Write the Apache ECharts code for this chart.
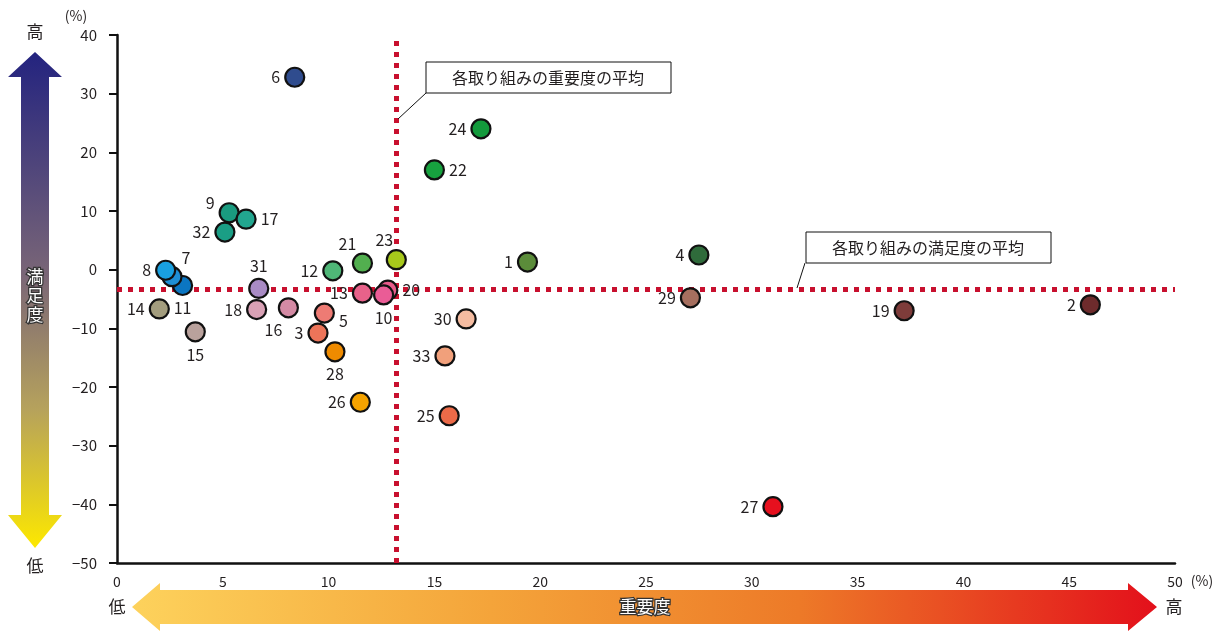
<!DOCTYPE html>
<html>
<head>
<meta charset="utf-8">
<script src="https://cdn.jsdelivr.net/npm/echarts@6/dist/echarts.min.js"></script>
<style>
  html, body { margin: 0; padding: 0; background: #fff; }
  #chart { width: 1218px; height: 632px; }
</style>
</head>
<body>
<div id="chart"></div>
<script>
const ids = ['1', '2', '3', '4', '5', '6', '7', '8', '9', '10', '11', '12', '13', '14', '15', '16', '17',
  '18', '19', '20', '21', '22', '23', '24', '25', '26', '27', '28', '29', '30', '31', '32', '33']
// 重要度 (%)
const importance = [19.4, 46.0, 9.5, 27.5, 9.8, 8.4, 2.6, 2.3, 5.3, 12.6, 3.1, 10.2, 11.6, 2.0, 3.7, 8.1, 6.1,
  6.6, 37.2, 12.8, 11.6, 15.0, 13.2, 17.2, 15.7, 11.5, 31.0, 10.3, 27.1, 16.5, 6.7, 5.1, 15.5]
// 満足度 (%)
const satisfaction = [1.3, -6.0, -10.8, 2.5, -7.4, 32.8, -1.2, -0.1, 9.7, -4.3, -2.7, -0.2, -4.0, -6.7, -10.6, -6.5, 8.6,
  -6.8, -7.0, -3.5, 1.1, 17.0, 1.7, 24.0, -24.9, -22.6, -40.4, -14.0, -4.8, -8.4, -3.2, 6.4, -14.7]
const avgImportance = 13.2
const avgSatisfaction = -3.3
const xTicks = [0, 5, 10, 15, 20, 25, 30, 35, 40, 45, 50]
const yTicks = [40, 30, 20, 10, 0, -10, -20, -30, -40, -50]

// styling per point
const colors = ['#5b8c3a', '#6e2b2c', '#ec7459', '#2f6b3b', '#ee7b74', '#2f4c8e', '#1e8fd6', '#19a0e0', '#1a9b7f',
  '#ea5c96', '#0b76c2', '#4fb677', '#e8628a', '#a39d7e', '#b9a19c', '#d48aa4', '#22a68f', '#d9a1b5', '#7e3c3a',
  '#e85b8b', '#52af4f', '#17a23f', '#a7c81b', '#139a3c', '#eb6a48', '#f5a300', '#e6101e', '#ef8b00', '#a66f5f',
  '#f5bca1', '#a98bc4', '#1a9e85', '#f1a07b']
const labelPos = {
  5: ['right', [0, 8]], 7: ['top', [14, 4]], 9: ['left', [0, -10]], 10: ['bottom', [0, 0]],
  11: ['bottom', [0, 0]], 15: ['bottom', [0, 0]], 16: ['bottom', [-15, 0]], 17: ['right', [0, 0]],
  20: ['right', [0, 0]], 21: ['top', [-15, 3]], 22: ['right', [0, 0]], 23: ['top', [-12, 3]],
  28: ['bottom', [0, 0]], 31: ['top', [0, 0]],
}
// later entries are drawn on top
const drawOrder = ['11', '7', '8', '20', '10']

const font = '"Noto Sans CJK JP", "Noto Sans", sans-serif'
const chart = echarts.init(document.getElementById('chart'))

const points = ids.map((id, i) => {
  const lp = labelPos[id] || ['left', [0, 0]]
  return {
    value: [importance[i], satisfaction[i]],
    name: id,
    itemStyle: { color: colors[i] },
    label: { position: lp[0], offset: lp[1] },
  }
})
points.sort((a, b) => drawOrder.indexOf(a.name) - drawOrder.indexOf(b.name))

const minus = (v) => (v < 0 ? '\u2212' + Math.abs(v) : String(v))

chart.setOption({
  animation: false,
  grid: { left: 117, right: 43, top: 35, bottom: 69 },
  xAxis: {
    type: 'value',
    min: xTicks[0],
    max: xTicks[xTicks.length - 1],
    interval: 5,
    splitLine: { show: false },
    axisTick: { show: false },
    axisLine: { onZero: false, lineStyle: { color: '#111', width: 2.5 } },
    axisLabel: { color: '#231f20', fontSize: 14, fontFamily: font, margin: 12 },
  },
  yAxis: {
    type: 'value',
    min: yTicks[yTicks.length - 1],
    max: yTicks[0],
    interval: 10,
    splitLine: { show: false },
    axisTick: { show: true, length: 8, lineStyle: { color: '#111', width: 2 } },
    axisLine: { show: true, onZero: false, lineStyle: { color: '#111', width: 2.5 } },
    axisLabel: { color: '#231f20', fontSize: 15, fontFamily: font, margin: 20, formatter: minus },
  },
  series: [
    {
      type: 'scatter',
      symbol: 'circle',
      symbolSize: 19,
      z: 5,
      itemStyle: { borderColor: '#111', borderWidth: 2.2, opacity: 1 },
      label: {
        show: true,
        formatter: '{b}',
        color: '#231f20',
        fontSize: 16,
        fontFamily: font,
        distance: 4,
      },
      data: points,
      markLine: {
        silent: true,
        symbol: 'none',
        z: 2,
        label: { show: false },
        lineStyle: { color: '#c8102e', type: [5, 6], width: 5, opacity: 1 },
        data: [{ xAxis: avgImportance }, { yAxis: avgSatisfaction }],
      },
    },
  ],
  graphic: [
    // 満足度 arrow
    {
      type: 'polygon',
      shape: { points: [[35, 52], [62, 77], [49, 77], [49, 515], [62, 515], [35, 548], [8, 515], [21, 515], [21, 77], [8, 77]] },
      style: {
        fill: new echarts.graphic.LinearGradient(0, 0, 0, 1, [
          { offset: 0, color: '#23237f' },
          { offset: 0.45, color: '#7a6677' },
          { offset: 0.72, color: '#b6a25c' },
          { offset: 1, color: '#fde800' },
        ]),
      },
    },
    { type: 'text', x: 35, y: 32, style: { text: '高', fontSize: 17, fontFamily: font, fill: '#231f20', align: 'center', verticalAlign: 'middle' } },
    { type: 'text', x: 35, y: 566, style: { text: '低', fontSize: 17, fontFamily: font, fill: '#231f20', align: 'center', verticalAlign: 'middle' } },
    {
      type: 'text', x: 35, y: 296,
      style: { text: '満\n足\n度', fontSize: 17, lineHeight: 19, fontFamily: font, fill: '#fff', stroke: '#333', lineWidth: 2.5, align: 'center', verticalAlign: 'middle' },
    },
    { type: 'text', x: 76, y: 16, style: { text: '(%)', fontSize: 14, fontFamily: font, fill: '#231f20', align: 'center', verticalAlign: 'middle' } },
    // 重要度 arrow
    {
      type: 'polygon',
      shape: { points: [[132, 607], [160, 583], [160, 590], [1128, 590], [1128, 583], [1157, 607], [1128, 631], [1128, 624], [160, 624], [160, 631]] },
      style: {
        fill: new echarts.graphic.LinearGradient(0, 0, 1, 0, [
          { offset: 0, color: '#fdd25c' },
          { offset: 0.35, color: '#f4a43a' },
          { offset: 0.65, color: '#ed7a28' },
          { offset: 1, color: '#e3101b' },
        ]),
      },
    },
    { type: 'text', x: 117, y: 607, style: { text: '低', fontSize: 17, fontFamily: font, fill: '#231f20', align: 'center', verticalAlign: 'middle' } },
    { type: 'text', x: 1174, y: 607, style: { text: '高', fontSize: 17, fontFamily: font, fill: '#231f20', align: 'center', verticalAlign: 'middle' } },
    {
      type: 'text', x: 645, y: 607,
      style: { text: '重要度', fontSize: 17, fontFamily: font, fill: '#fff', stroke: '#333', lineWidth: 2.5, align: 'center', verticalAlign: 'middle' },
    },
    { type: 'text', x: 1202, y: 581, style: { text: '(%)', fontSize: 14, fontFamily: font, fill: '#231f20', align: 'center', verticalAlign: 'middle' } },
    // annotations for the average lines
    { type: 'line', shape: { x1: 426, y1: 93, x2: 398, y2: 119 }, style: { stroke: '#111', lineWidth: 1 }, z: 10 },
    { type: 'rect', shape: { x: 426, y: 62, width: 245, height: 31 }, style: { fill: '#fff', stroke: '#111', lineWidth: 1 }, z: 10 },
    { type: 'text', x: 548, y: 78, z: 11, style: { text: '各取り組みの重要度の平均', fontSize: 16, fontFamily: font, fill: '#231f20', align: 'center', verticalAlign: 'middle' } },
    { type: 'line', shape: { x1: 805, y1: 263, x2: 797, y2: 288 }, style: { stroke: '#111', lineWidth: 1 }, z: 10 },
    { type: 'rect', shape: { x: 806, y: 232, width: 245, height: 31 }, style: { fill: '#fff', stroke: '#111', lineWidth: 1 }, z: 10 },
    { type: 'text', x: 928, y: 248, z: 11, style: { text: '各取り組みの満足度の平均', fontSize: 16, fontFamily: font, fill: '#231f20', align: 'center', verticalAlign: 'middle' } },
  ],
})
</script>
</body>
</html>
